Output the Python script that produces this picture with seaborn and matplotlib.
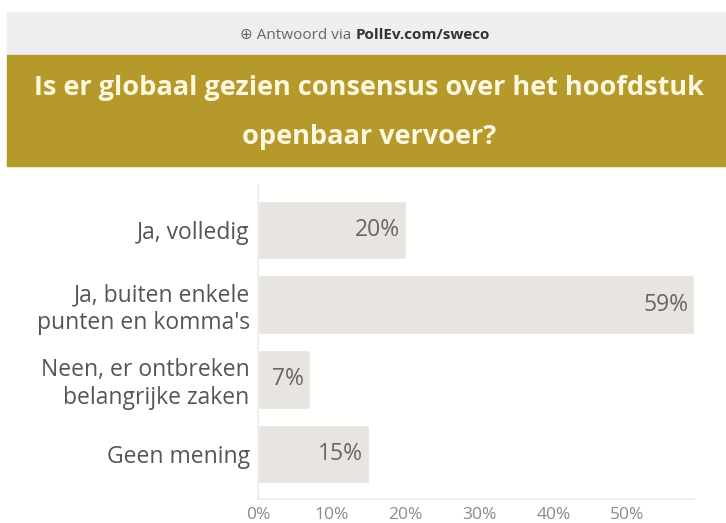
import matplotlib.pyplot as plt
import matplotlib.patches as mpatches
import seaborn as sns
import pandas as pd

# Poll answers and share of votes (%)
answers = ["Ja, volledig", "Ja, buiten enkele\npunten en komma's",
           "Neen, er ontbreken\nbelangrijke zaken", "Geen mening"]
shares = [20, 59, 7, 15]
tick_values = [0, 10, 20, 30, 40, 50]
tick_labels = ["0%", "10%", "20%", "30%", "40%", "50%"]

df = pd.DataFrame({"answer": answers, "share": shares})

sns.set_theme(style="white")
plt.rcParams['font.family'] = ['Open Sans', 'DejaVu Sans']

fig = plt.figure(figsize=(7.26, 5.23), dpi=100)
fig.patch.set_facecolor("#FFFFFE")

# Header bands
fig.patches.append(mpatches.Rectangle((7 / 726, 1 - 55 / 523), 1, 43 / 523,
                                      transform=fig.transFigure, color="#EFEFF2", zorder=0))
fig.patches.append(mpatches.Rectangle((7 / 726, 1 - 166 / 523), 1, 111 / 523,
                                      transform=fig.transFigure, color="#B5992A", zorder=0))

fig.text(0.490, 1 - 35 / 523, "\u2295 Antwoord via ", ha="right", va="center",
         fontsize=11, color="#666666")
fig.text(0.490, 1 - 35 / 523, "PollEv.com/sweco", ha="left", va="center",
         fontsize=11, color="#333333", fontweight="bold")
fig.text(0.508, 1 - 88 / 523, "Is er globaal gezien consensus over het hoofdstuk",
         ha="center", va="center", fontsize=19.5, fontweight="bold", color="#FFF8E0")
fig.text(0.508, 1 - 137 / 523, "openbaar vervoer?",
         ha="center", va="center", fontsize=19.5, fontweight="bold", color="#FFF8E0")

ax = fig.add_axes([258 / 726, 1 - 499 / 523, 436 / 726, 314 / 523])
ax.set_facecolor("none")
sns.barplot(data=df, x="share", y="answer", color="#E7E4E1", width=0.78,
            saturation=1, ax=ax)

ax.set_xlim(0, 59)
ax.set_ylim(3.6, -0.6)
ax.set_xticks(tick_values)
ax.set_xticklabels(tick_labels, fontsize=12.5, color="#8A8A8A")
ax.tick_params(axis="y", labelsize=16.5, labelcolor="#555555", length=0, pad=6)
ax.tick_params(axis="x", length=0, pad=6)
ax.set_xlabel("")
ax.set_ylabel("")

for side in ["top", "right"]:
    ax.spines[side].set_visible(False)
ax.spines["left"].set_color("#ECECEC")
ax.spines["bottom"].set_color("#ECECEC")

texts = ax.bar_label(ax.containers[0], labels=[f"{v}%" for v in shares],
                     padding=-4, fontsize=16.5, color="#666666")
for t in texts:
    t.set_ha("right")

fig.savefig("out.png", dpi=100)
